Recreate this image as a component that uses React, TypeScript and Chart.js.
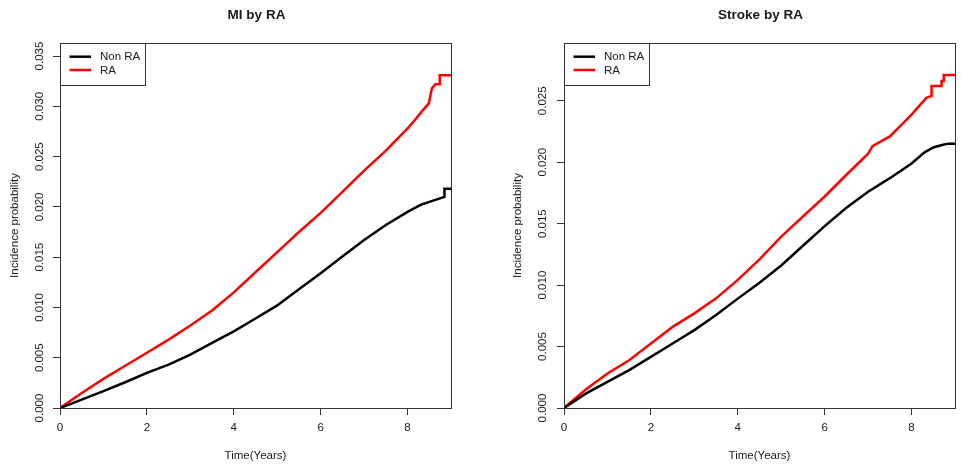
import React, { useEffect, useRef } from "react";
import { Chart, registerables } from "chart.js";

Chart.register(...registerables);

// ---------- data ----------
const xTickValues = [0, 2, 4, 6, 8];
const miYTickValues = [0, 0.005, 0.01, 0.015, 0.02, 0.025, 0.03, 0.035];
const strokeYTickValues = [0, 0.005, 0.01, 0.015, 0.02, 0.025];
const seriesLabels = ["Non RA", "RA"];

const miNonRaTime = [0, 0.5, 1, 1.5, 2, 2.5, 3, 3.5, 4, 4.5, 5, 5.5, 6, 6.5, 7, 7.5, 8, 8.3, 8.5, 8.85, 8.85, 9];
const miNonRaValue = [0, 0.00084, 0.00167, 0.00256, 0.0035, 0.00432, 0.0053, 0.00647, 0.00762, 0.0089, 0.0102, 0.0118, 0.0134, 0.01506, 0.0167, 0.0182, 0.0195, 0.0202, 0.0205, 0.0210, 0.0218, 0.0218];

const miRaTime = [0, 0.5, 1, 1.5, 2, 2.5, 3, 3.5, 4, 4.5, 5, 5.5, 6, 6.5, 7, 7.5, 8, 8.14, 8.33, 8.49, 8.56, 8.64, 8.74, 8.74, 9];
const miRaValue = [0, 0.0015, 0.0029, 0.0042, 0.0055, 0.0068, 0.0082, 0.0097, 0.0115, 0.0135, 0.0155, 0.0175, 0.0194, 0.0215, 0.0236, 0.0256, 0.0278, 0.0285, 0.0295, 0.0303, 0.0318, 0.0322, 0.0322, 0.0331, 0.0331];

const strokeNonRaTime = [0, 0.5, 1, 1.5, 2, 2.5, 3, 3.5, 4, 4.5, 5, 5.5, 6, 6.5, 7, 7.5, 8, 8.3, 8.5, 8.7, 8.84, 9];
const strokeNonRaValue = [0, 0.00117, 0.00212, 0.00308, 0.00416, 0.00525, 0.00634, 0.00756, 0.0089, 0.0102, 0.0116, 0.0132, 0.0148, 0.0163, 0.0176, 0.0187, 0.0199, 0.0208, 0.0212, 0.0214, 0.02151, 0.02151];

const strokeRaTime = [0, 0.5, 1, 1.5, 2, 2.5, 3, 3.5, 4, 4.5, 5, 5.5, 6, 6.5, 7, 7.1, 7.5, 8, 8.34, 8.46, 8.46, 8.69, 8.69, 8.74, 8.74, 9];
const strokeRaValue = [0, 0.0015, 0.00281, 0.00389, 0.00525, 0.0066, 0.0077, 0.00892, 0.01042, 0.0121, 0.01395, 0.01558, 0.01721, 0.01898, 0.0207, 0.0213, 0.0221, 0.02388, 0.02524, 0.0254, 0.0262, 0.0262, 0.0266, 0.0266, 0.0271, 0.0271];

const seriesColors = ["#000000", "#FF0000"];

// ---------- styling ----------
const FONT = "'Liberation Sans', Arial, Helvetica, sans-serif";
const TEXT = "#1a1a1a";
const FRAME = "#333333";

type PanelProps = {
  title: string;
  width: number;
  left: number;
  right: number;
  yMax: number;
  yTicks: number[];
  times: number[][];
  values: number[][];
  yTitlePad: number;
  yTickLabelX: number;
};

const CANVAS_H = 468;
const AREA_TOP = 43;
const AREA_BOTTOM = 408;

function Panel(p: PanelProps) {
  const ref = useRef<HTMLCanvasElement | null>(null);

  useEffect(() => {
    if (!ref.current) return;

    const framePlugin = {
      id: "rframe",
      afterDraw(chart: any) {
        const ctx = chart.ctx as CanvasRenderingContext2D;
        const a = chart.chartArea;
        ctx.save();
        ctx.strokeStyle = FRAME;
        ctx.lineWidth = 1;
        ctx.strokeRect(Math.round(a.left) + 0.5, Math.round(a.top) + 0.5, Math.round(a.right - a.left), Math.round(a.bottom - a.top));
        ctx.fillStyle = TEXT;
        ctx.font = `bold 13.5px ${FONT}`;
        ctx.textAlign = "center";
        ctx.textBaseline = "middle";
        ctx.fillText(p.title, (a.left + a.right) / 2 + 1, 15);
        const ys = chart.scales.y;
        ctx.font = `11.5px ${FONT}`;
        for (const t of ys.ticks) {
          const py = ys.getPixelForValue(t.value);
          ctx.save();
          ctx.translate(p.yTickLabelX, py);
          ctx.rotate(-Math.PI / 2);
          ctx.fillText(t.value.toFixed(3), 0, 0);
          ctx.restore();
        }
        const lx = Math.round(a.left) + 0.5;
        const ly = Math.round(a.top) + 0.5;
        ctx.fillStyle = "#ffffff";
        ctx.fillRect(lx, ly, 85, 42);
        ctx.strokeStyle = FRAME;
        ctx.strokeRect(lx, ly, 85, 42);
        ctx.font = `11.5px ${FONT}`;
        ctx.textAlign = "left";
        seriesLabels.forEach((lab, i) => {
          const yy = a.top + 13.7 + i * 13.3;
          ctx.strokeStyle = seriesColors[i];
          ctx.lineWidth = 2.5;
          ctx.beginPath();
          ctx.moveTo(a.left + 9.5, yy);
          ctx.lineTo(a.left + 31, yy);
          ctx.stroke();
          ctx.fillStyle = TEXT;
          ctx.fillText(lab, a.left + 40, yy + 0.5);
        });
        ctx.restore();
      },
    };

    const chart = new Chart(ref.current, {
      type: "line",
      data: {
        datasets: seriesLabels.map((lab, i) => ({
          label: lab,
          data: p.times[i].map((t, k) => ({ x: t, y: p.values[i][k] })),
          borderColor: seriesColors[i],
          backgroundColor: seriesColors[i],
          borderWidth: 2.5,
          pointRadius: 0,
          tension: 0,
          fill: false,
        })),
      },
      options: {
        animation: false,
        responsive: true,
        maintainAspectRatio: false,
        layout: { padding: { left: 0, right: p.right, top: AREA_TOP, bottom: 0 } },
        plugins: { legend: { display: false }, tooltip: { enabled: false }, title: { display: false } },
        scales: {
          x: {
            type: "linear",
            min: 0,
            max: 9,
            afterBuildTicks: (s: any) => {
              s.ticks = xTickValues.map((v) => ({ value: v }));
            },
            afterFit: (s: any) => {
              s.height = CANVAS_H - AREA_BOTTOM;
            },
            border: { display: false },
            grid: { display: true, drawOnChartArea: false, drawTicks: true, tickLength: 7, color: FRAME, lineWidth: 1 },
            ticks: { color: TEXT, font: { family: FONT, size: 11.5 }, padding: 6, maxRotation: 0, minRotation: 0, callback: (v: any) => String(v) },
            title: { display: true, text: "Time(Years)", color: TEXT, font: { family: FONT, size: 11.5 }, padding: { top: 0, bottom: 5.4 } },
          },
          y: {
            type: "linear",
            min: 0,
            max: p.yMax,
            afterBuildTicks: (s: any) => {
              s.ticks = p.yTicks.map((v) => ({ value: v }));
            },
            afterFit: (s: any) => {
              s.width = p.left;
            },
            border: { display: false },
            grid: { display: true, drawOnChartArea: false, drawTicks: true, tickLength: 7, color: FRAME, lineWidth: 1 },
            ticks: { display: false },
            title: { display: true, text: "Incidence probability", color: TEXT, font: { family: FONT, size: 11.5 }, padding: { top: p.yTitlePad, bottom: 0 } },
          },
        },
      },
      plugins: [framePlugin],
    } as any);

    return () => chart.destroy();
  }, []);

  return (
    <div style={{ position: "relative", width: p.width, height: CANVAS_H, flex: "none" }}>
      <canvas ref={ref} />
    </div>
  );
}

export default function App() {
  return (
    <div style={{ position: "absolute", left: 0, top: 0, width: 967, height: CANVAS_H, display: "flex", background: "#fff" }}>
      <Panel
        title="MI by RA"
        width={484}
        left={60}
        right={33}
        yMax={0.0363}
        yTicks={miYTickValues}
        times={[miNonRaTime, miRaTime]}
        values={[miNonRaValue, miRaValue]}
        yTitlePad={8}
        yTickLabelX={40}
      />
      <Panel
        title="Stroke by RA"
        width={483}
        left={80}
        right={12}
        yMax={0.0297}
        yTicks={strokeYTickValues}
        times={[strokeNonRaTime, strokeRaTime]}
        values={[strokeNonRaValue, strokeRaValue]}
        yTitlePad={27}
        yTickLabelX={59}
      />
    </div>
  );
}
